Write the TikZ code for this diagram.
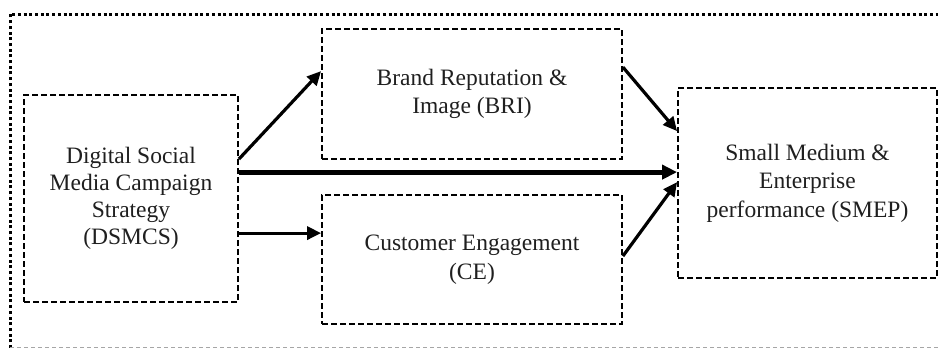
\documentclass[tikz,border=0pt]{standalone}
\usepackage{fontspec}
\setmainfont{Liberation Serif}
\usetikzlibrary{arrows.meta}
\begin{document}
\begin{tikzpicture}[x=1pt,y=-1pt,
  box/.style={draw=black,line width=1.8pt,dash pattern=on 6pt off 3pt,
    rectangle,inner sep=0pt,align=center,text=black!88,
    font=\fontsize{23.5}{28.5}\selectfont},
  link/.style={line width=3.2pt,-{Triangle[length=14pt,width=13pt]}},
  mainlink/.style={line width=5pt,-{Triangle[length=15pt,width=14pt]}}]
\useasboundingbox (0,0) rectangle (938,348);
% outer frame: heavy dotted top and left, light dashed bottom
\draw[line width=3pt,dash pattern=on 3pt off 2.7pt] (10,348) -- (10,14) -- (938,14);
\draw[gray!70,line width=1pt,dash pattern=on 4pt off 3pt] (10,347.5) -- (938,347.5);
% constructs
\node[box,minimum width=214pt,minimum height=207pt,
  font=\fontsize{23.5}{27}\selectfont] (dsmcs) at (131,198.5)
  {Digital Social\\Media Campaign\\Strategy\\(DSMCS)};
\node[box,minimum width=300pt,minimum height=130pt] (bri) at (472,94)
  {Brand Reputation \&\\Image (BRI)};
\node[box,minimum width=300pt,minimum height=129pt] (ce) at (472,259.5)
  {Customer Engagement\\(CE)};
\node[box,minimum width=259pt,minimum height=190pt] (smep) at (807.5,183)
  {Small Medium \&\\Enterprise\\performance (SMEP)};
% paths
\draw[link] ([yshift=-65pt]dsmcs.north east) -- ([yshift=-43pt]bri.north west);
\draw[link] ([yshift=-39pt]bri.north east) -- ([yshift=-44pt]smep.north west);
\draw[mainlink] ([yshift=-78pt]dsmcs.north east) -- ([yshift=-85pt]smep.north west);
\draw[link] ([yshift=-139pt]dsmcs.north east) -- ([yshift=-39pt]ce.north west);
\draw[link] ([yshift=-62pt]ce.north east) -- ([yshift=-95pt]smep.north west);
\end{tikzpicture}
\end{document}
